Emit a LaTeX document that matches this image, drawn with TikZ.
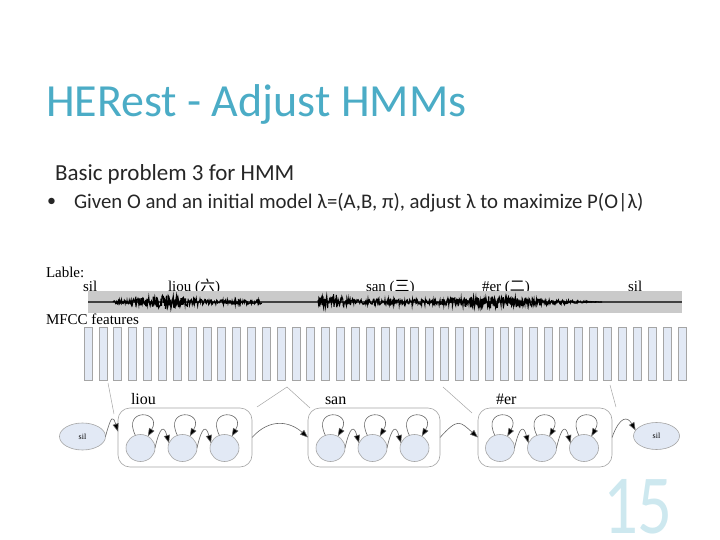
\documentclass[tikz,border=0pt]{standalone}
\usepackage{fontspec}
\setmainfont{Liberation Serif}
\newfontfamily\slidefont{Carlito}
\newfontfamily\cjkfont{Noto Sans CJK SC}
\usepackage{tikz}
\usetikzlibrary{arrows.meta, positioning, shapes.geometric}

\definecolor{titleteal}{RGB}{75,172,198}
\definecolor{statefill}{RGB}{226,233,245}
\definecolor{bandgray}{RGB}{202,202,202}
\definecolor{edgegray}{RGB}{165,165,165}

\begin{document}
\begin{tikzpicture}[
x=1pt, y=-1pt,
node distance=13pt,
every node/.style={inner sep=0pt, outer sep=0pt},
lbl/.style={anchor=base west, font=\fontsize{15}{15}\selectfont},
slide/.style={anchor=base west, text=black!85},
feat/.style={draw=edgegray, fill=statefill, line width=0.6pt, minimum width=8pt, minimum height=53pt},
hmm/.style={draw=edgegray, rounded corners=12pt, line width=0.6pt, minimum height=59pt},
state/.style={ellipse, draw=edgegray, fill=statefill, line width=0.6pt, minimum width=29pt, minimum height=27pt},
silst/.style={ellipse, draw=edgegray, fill=statefill, line width=0.6pt, minimum width=46pt, minimum height=27pt, font=\fontsize{8}{8}\selectfont},
trans/.style={draw=black!60, line width=0.6pt, -{Triangle[length=8pt, width=6pt, fill=black]}},
guide/.style={draw=edgegray, line width=0.5pt}
]
\useasboundingbox (0,0) rectangle (720,540);

% slide text
\node[slide, text=titleteal, font=\slidefont\fontsize{46}{46}\selectfont] (title) at (46,117) {HERest - Adjust HMMs};
\node[slide, font=\slidefont\fontsize{23}{23}\selectfont] (sub) at (55,181) {Basic problem 3 for HMM};
\node[slide, font=\slidefont\fontsize{18}{18}\selectfont] (dot) at (47,207) {•};
\node[slide, font=\slidefont\fontsize{20.8}{21}\selectfont] (goal) at (74,208)
{Given O and an initial model λ=(A,B, π), adjust λ to maximize P(O|λ)};
\node[slide, text=titleteal!28, font=\slidefont\fontsize{84}{84}\selectfont] (pagenum) at (603,533) {\scalebox{0.82}[1]{15}};

% labels and waveform
\node[lbl] (lable) at (46,277) {Lable:};
\node[lbl] (silA) at (83,291) {sil};
\node[lbl] (liouW) at (168,291) {liou ({\cjkfont 六})};
\node[lbl] (sanW) at (366,291) {san ({\cjkfont 三})};
\node[lbl] (erW) at (482,291) {\#er ({\cjkfont 二})};
\node[lbl] (silB) at (628,291) {sil};

\node[fill=bandgray, minimum width=594pt, minimum height=22pt] (band) at (385,302) {};
\draw[black!75, line width=1.1pt] (band.west) -- (band.east);
\pgfmathsetseed{11}
\draw[black, line width=1.1pt] plot[domain=113:262, samples=330]
  (\x, {302 + (2.2 + 5*max(0,1-abs(\x-168)/42))*rand});
\draw[black, line width=1.1pt] plot[domain=318:602, samples=620]
  (\x, {302 + (3 + 5.5*max(0,1-abs(\x-332)/18) + 3.5*max(0,1-abs(\x-490)/55))*min(1,(602-\x)/60)*rand});

% MFCC frames
\node[lbl] (mfcc) at (46,324) {MFCC features};
\foreach \i in {1,...,41}
  \node[feat] (f\i) at ({88+(\i-1)*14.85}, 353.5) {};

% HMMs
\node[silst] (sil1) at (82.5,436.5) {sil};
\node[hmm, minimum width=134pt] (liou) at (185,437.5) {};
\node[hmm, minimum width=132pt] (san) at (374,437.5) {};
\node[hmm, minimum width=134pt] (er) at (545,437.5) {};
\node[silst] (sil2) at (656.5,436) {sil};

\node[lbl, font=\fontsize{16}{16}\selectfont] (liouL) at (131,404) {liou};
\node[lbl, font=\fontsize{16}{16}\selectfont] (sanL) at (325,404) {san};
\node[lbl, font=\fontsize{16}{16}\selectfont] (erL) at (496,404) {\#er};

\foreach \m/\x in {liou/140.5, san/330.5, er/500} {
  \node[state] (\m1) at (\x,448) {};
  \node[state, right=of \m1] (\m2) {};
  \node[state, right=of \m2] (\m3) {};
  \foreach \j in {1,2,3}
    \draw[trans] (\m\j.112) .. controls +(-14,-28) and +(15,-26) .. (\m\j.58);
  \draw[trans] (\m1.east) .. controls +(5,-22) and +(-5,-18) .. (\m2.160);
  \draw[trans] (\m2.east) .. controls +(5,-22) and +(-5,-18) .. (\m3.160);
}

\draw[trans] (sil1.east) .. controls +(6,-22) and +(-5,-16) .. (liou.175);
\draw[trans] (liou.east) .. controls +(18,-20) and +(-18,-16) .. (san.west);
\draw[trans] (san.east) .. controls +(18,-20) and +(-18,-16) .. (er.west);
\draw[trans] (er.east) .. controls +(8,-22) and +(-8,-14) .. (sil2.165);

% frame boundaries
\coordinate (g1a) at (108,383); \coordinate (g1b) at (114,414);
\coordinate (g2a) at (257,407); \coordinate (g2b) at (287,387); \coordinate (g2c) at (310,408);
\coordinate (g3a) at (443,387); \coordinate (g3b) at (472,413);
\coordinate (g4a) at (610,385); \coordinate (g4b) at (616,407);
\draw[guide] (g1a) -- (g1b);
\draw[guide] (g2a) -- (g2b) -- (g2c);
\draw[guide] (g3a) -- (g3b);
\draw[guide] (g4a) -- (g4b);

\end{tikzpicture}
\end{document}
